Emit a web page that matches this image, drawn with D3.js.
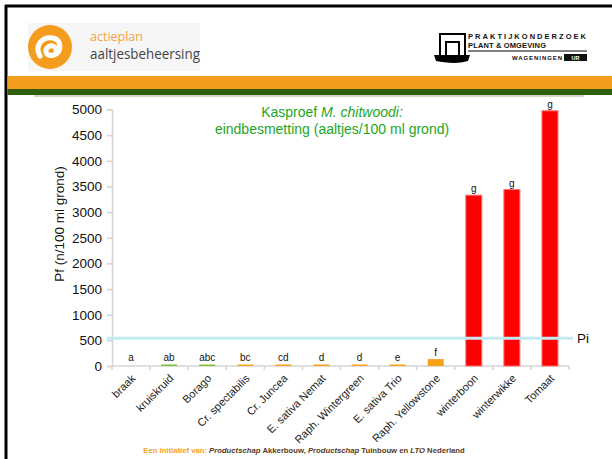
<!DOCTYPE html>
<html><head><meta charset="utf-8">
<script src="https://cdn.jsdelivr.net/npm/d3@7"></script>
<style>
html,body{margin:0;padding:0;background:#fff;overflow:hidden;}
svg{display:block;font-family:"Liberation Sans",Arial,sans-serif;}
</style></head>
<body>
<svg id="c" width="612" height="459"></svg>
<script>
// ---- data ----
const categories = ["braak","kruiskruid","Borago","Cr. spectabilis","Cr. Juncea","E. sativa Nemat","Raph. Wintergreen","E. sativa Trio","Raph. Yellowstone","winterboon","winterwikke","Tomaat"];
const values = [0, 10, 10, 10, 10, 14, 12, 30, 135, 3330, 3440, 4975];
const letters = ["a","ab","abc","bc","cd","d","d","e","f","g","g","g"];
const groups = ["braak","overig","overig","kruisbloemig","kruisbloemig","kruisbloemig","kruisbloemig","kruisbloemig","kruisbloemig","waard","waard","waard"];
const yTicks = [0,500,1000,1500,2000,2500,3000,3500,4000,4500,5000];
const piValue = 540;

const svg = d3.select("#c");
const groupColor = d3.scaleOrdinal().domain(["braak","overig","kruisbloemig","waard"]).range(["#f7a21b","#7fbf3f","#f7a21b","#ff0000"]);
const groupStroke = d3.scaleOrdinal().domain(["braak","overig","kruisbloemig","waard"]).range(["#f7a21b","#9fd06a","#f9bb5a","#ff7070"]);

// ---- frame / header ----
svg.append("line").attr("x1",6).attr("x2",6).attr("y1",5).attr("y2",459).attr("stroke","#000").attr("stroke-width",3);
svg.append("line").attr("x1",5).attr("x2",612).attr("y1",6).attr("y2",6).attr("stroke","#000").attr("stroke-width",3);
svg.append("rect").attr("x",7.5).attr("y",76).attr("width",605).attr("height",14).attr("fill","#f39c1e");
svg.append("rect").attr("x",7.5).attr("y",89).attr("width",605).attr("height",6).attr("fill","#2f5f0c");
svg.append("rect").attr("x",34).attr("y",95).attr("width",550).attr("height",2).attr("fill","#cfdcbf");

// left logo
svg.append("rect").attr("x",28).attr("y",23).attr("width",172).attr("height",48).attr("fill","#f6f6f6");
svg.append("circle").attr("cx",50).attr("cy",47).attr("r",22).attr("fill","#f39c1e");
svg.append("path").attr("d","M40,56 C34,46 42,36 53,38 C62,40 62,52 54,55 C47,57 43,51 48,47 C52,44 57,47 56,51")
  .attr("fill","none").attr("stroke","#fff").attr("stroke-width",5).attr("stroke-linecap","round");
svg.append("text").attr("x",90).attr("y",41).attr("font-size",12.5).attr("fill","#f3a14a").attr("font-family","'Open Sans',sans-serif").text("actieplan");
svg.append("text").attr("x",90).attr("y",59).attr("font-size",14).attr("fill","#444").attr("font-family","'Open Sans',sans-serif")
  .attr("textLength",110).attr("lengthAdjust","spacingAndGlyphs").text("aaltjesbeheersing");

// right logo
const bld = svg.append("g");
bld.append("path").attr("d","M440,56 V34 H465 V56 M446,56 V42 H459 V56").attr("fill","none").attr("stroke","#000").attr("stroke-width",2);
bld.append("path").attr("d","M434,55 H470 L468,61 C458,64 446,63 436,61 Z").attr("fill","#000");
svg.append("text").attr("x",468).attr("y",39).attr("font-size",7.5).attr("font-weight","bold").attr("fill","#111")
  .attr("textLength",118).attr("lengthAdjust","spacing").text("PRAKTIJKONDERZOEK");
svg.append("text").attr("x",468).attr("y",48).attr("font-size",7.5).attr("font-weight","bold").attr("fill","#111")
  .attr("textLength",78).attr("lengthAdjust","spacing").text("PLANT & OMGEVING");
svg.append("line").attr("x1",468).attr("x2",587).attr("y1",51).attr("y2",51).attr("stroke","#000").attr("stroke-width",1);
svg.append("text").attr("x",562).attr("y",60).attr("font-size",6).attr("font-weight","bold").attr("fill","#111")
  .attr("text-anchor","end").attr("textLength",50).attr("lengthAdjust","spacing").text("WAGENINGEN");
svg.append("rect").attr("x",564).attr("y",54).attr("width",23).attr("height",7).attr("fill","#111");
svg.append("text").attr("x",575.5).attr("y",60).attr("font-size",5.5).attr("font-weight","bold").attr("fill","#fff").attr("text-anchor","middle").text("UR");

// ---- chart ----
const x = d3.scaleBand().domain(categories).range([112,569]).padding(0);
const y = d3.scaleLinear().domain([0,5000]).range([366,109.5]);
const barW = x.bandwidth()*0.42;

// y axis
const ya = svg.append("g").attr("transform","translate(112,0)")
  .call(d3.axisLeft(y).tickValues(yTicks).tickSize(5).tickPadding(5).tickFormat(d3.format("d")));
ya.select(".domain").attr("stroke","#d4d4d4").attr("stroke-width",1.5);
ya.selectAll(".tick line").attr("stroke","#d4d4d4").attr("stroke-width",1.5);
ya.selectAll(".tick text").attr("font-size",13.5).attr("fill","#111").attr("font-family","'Liberation Sans',Arial,sans-serif");

// x axis line and boundary ticks
svg.append("line").attr("x1",x.range()[0]).attr("x2",x.range()[1]).attr("y1",y(0)).attr("y2",y(0)).attr("stroke","#d4d4d4").attr("stroke-width",1.5);
const bounds = d3.range(categories.length+1).map(i => x.range()[0] + i*x.step());
svg.append("g").selectAll("line").data(bounds).join("line")
  .attr("x1",d=>d).attr("x2",d=>d).attr("y1",y(0)).attr("y2",y(0)+4).attr("stroke","#d4d4d4").attr("stroke-width",1.5);

// bars
const data = categories.map((c,i)=>({c, v:values[i], l:letters[i], g:groups[i]}));
svg.append("g").selectAll("rect").data(data.filter(d=>d.v>0)).join("rect")
  .attr("x",d=>x(d.c)+x.bandwidth()/2-barW/2).attr("width",barW)
  .attr("y",d=>Math.min(y(d.v), y(0)-1.5)).attr("height",d=>Math.max(y(0)-y(d.v),1.5))
  .attr("fill",d=>groupColor(d.g)).attr("stroke",d=>d.v>1000?groupStroke(d.g):"none").attr("stroke-width",1);

// letters
svg.append("g").selectAll("text").data(data).join("text")
  .attr("x",d=>x(d.c)+x.bandwidth()/2).attr("y",d=>Math.min(y(d.v),y(0)-2)-3)
  .attr("text-anchor","middle").attr("font-size",10).attr("fill","#111").text(d=>d.l);

// Pi line
svg.append("line").attr("x1",107).attr("x2",573).attr("y1",y(piValue)).attr("y2",y(piValue)).attr("stroke","#c3eaf1").attr("stroke-width",3);
svg.append("text").attr("x",577).attr("y",y(piValue)+5).attr("font-size",13.5).attr("fill","#111").text("Pi");

// x labels (rotated -45 degrees)
svg.append("g").selectAll("text").data(categories).join("text")
  .attr("x",0).attr("y",0)
  .attr("transform",d=>"translate(" + (x(d)+x.bandwidth()/2+5) + "," + (y(0)+13) + ") rotate(-45)")
  .attr("text-anchor","end").attr("font-size",11).attr("fill","#222").text(d=>d);

// y title
svg.append("text").attr("transform","translate(64,224) rotate(-90)").attr("text-anchor","middle")
  .attr("font-size",13.5).attr("fill","#111").text("Pf (n/100 ml grond)");

// chart title
const t1 = svg.append("text").attr("x",332).attr("y",117).attr("text-anchor","middle").attr("font-size",14).attr("fill","#1ea51e");
t1.append("tspan").text("Kasproef ");
t1.append("tspan").attr("font-style","italic").text("M. chitwoodi:");
svg.append("text").attr("x",332).attr("y",134).attr("text-anchor","middle").attr("font-size",14).attr("fill","#1ea51e")
  .text("eindbesmetting (aaltjes/100 ml grond)");

// footer: size font so that it spans the same width as the reference
const ft = svg.append("text").attr("x",304).attr("y",453).attr("text-anchor","middle").attr("font-size",8).attr("font-weight","bold");
ft.append("tspan").attr("fill","#f7a21b").text("Een initiatief van: ");
ft.append("tspan").attr("fill","#5a3a1a").attr("font-style","italic").text("Productschap ");
ft.append("tspan").attr("fill","#5a3a1a").text("Akkerbouw, ");
ft.append("tspan").attr("fill","#5a3a1a").attr("font-style","italic").text("Productschap ");
ft.append("tspan").attr("fill","#5a3a1a").text("Tuinbouw en ");
ft.append("tspan").attr("fill","#5a3a1a").attr("font-style","italic").text("LTO ");
ft.append("tspan").attr("fill","#5a3a1a").text("Nederland");
const fw = ft.node().getComputedTextLength();
if (fw > 0) ft.attr("font-size", Math.min(9, 8*322/fw));
</script>
</body></html>
